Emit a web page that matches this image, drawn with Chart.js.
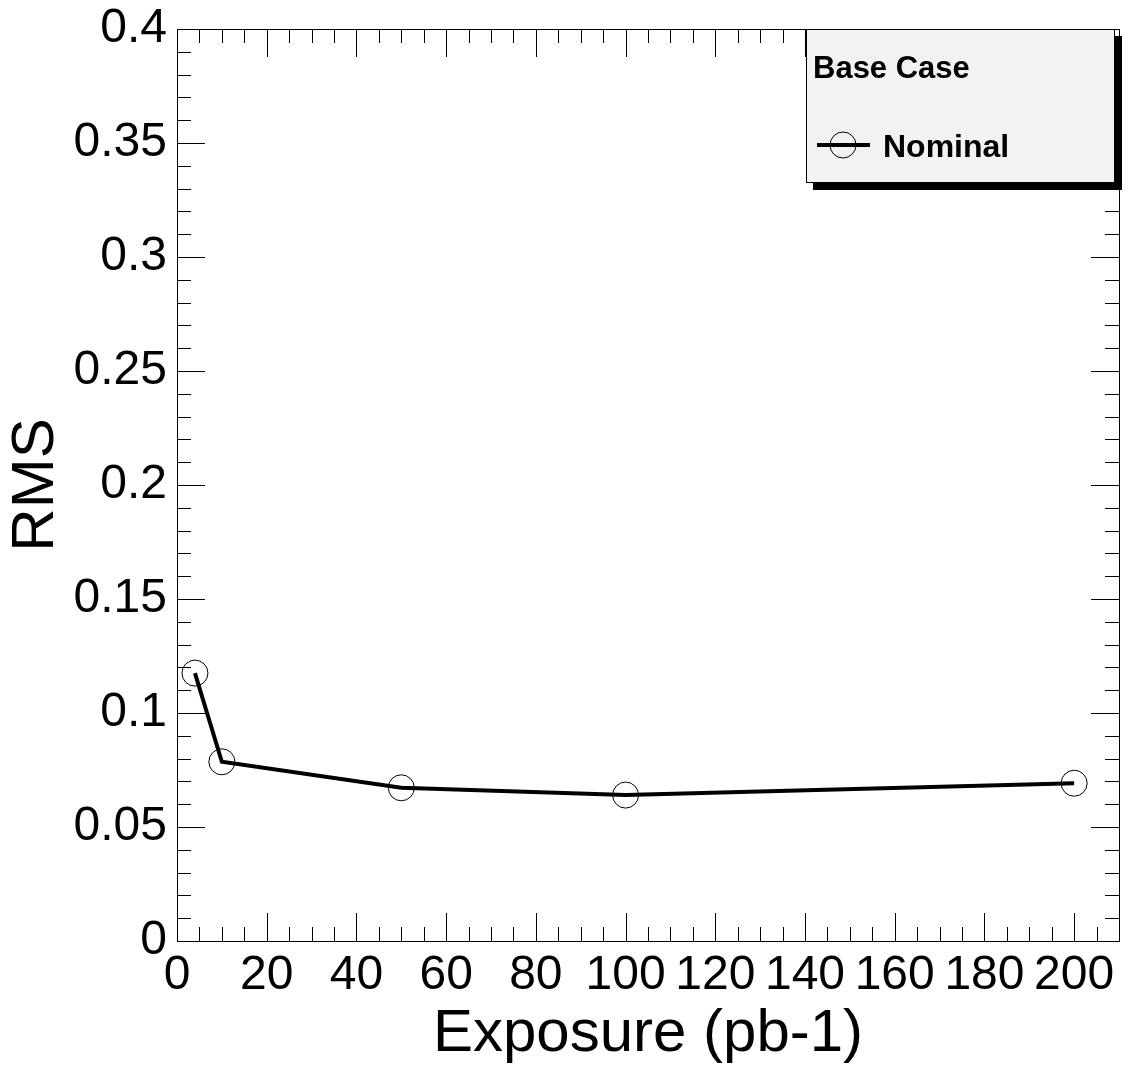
<!DOCTYPE html>
<html>
<head>
<meta charset="utf-8">
<script src="https://cdn.jsdelivr.net/npm/chart.js@4.4.0/dist/chart.umd.min.js"></script>
<style>
  html, body { margin: 0; padding: 0; background: #fff; }
  #chart { display: block; }
</style>
</head>
<body>
<canvas id="chart" width="1133" height="1070"></canvas>
<script>
// datos
const exposure = [4, 10, 50, 100, 200];
const rmsNominal = [0.1175, 0.0786, 0.0672, 0.0640, 0.0692];
const xTickValues = [0, 20, 40, 60, 80, 100, 120, 140, 160, 180, 200];
const yTickValues = [0, 0.05, 0.1, 0.15, 0.2, 0.25, 0.3, 0.35, 0.4];
const xMinorStep = 5;
const yMinorStep = 0.01;
const legendTitle = 'Base Case';
const seriesName = 'Nominal';

const FONT = '"Liberation Sans", Arial, Helvetica, sans-serif';

// marco y ticks hacia dentro (estilo ROOT)
const frameTicks = {
    id: 'frameTicks',
    beforeDatasetsDraw(chart) {
        const ctx = chart.ctx;
        const a = chart.chartArea;
        const xs = chart.scales.x;
        const ys = chart.scales.y;
        const major = 28, minor = 14;
        ctx.save();
        ctx.strokeStyle = '#000';
        ctx.lineWidth = 1;
        ctx.beginPath();
        // eje x
        for (let v = xs.min; v <= xs.max + 1e-9; v += xMinorStep) {
            const isMajor = xTickValues.some(t => Math.abs(t - v) < 1e-6);
            const len = isMajor ? major : minor;
            const px = Math.round(xs.getPixelForValue(v)) + 0.5;
            ctx.moveTo(px, a.bottom); ctx.lineTo(px, a.bottom - len);
            ctx.moveTo(px, a.top); ctx.lineTo(px, a.top + len);
        }
        // eje y
        for (let i = 0; i * yMinorStep <= ys.max + 1e-9; i++) {
            const v = i * yMinorStep;
            const isMajor = yTickValues.some(t => Math.abs(t - v) < 1e-6);
            const len = isMajor ? major : minor;
            const py = Math.round(ys.getPixelForValue(v)) + 0.5;
            ctx.moveTo(a.left, py); ctx.lineTo(a.left + len, py);
            ctx.moveTo(a.right, py); ctx.lineTo(a.right - len, py);
        }
        ctx.stroke();
        ctx.strokeRect(Math.round(a.left) + 0.5, Math.round(a.top) + 0.5,
            Math.round(a.right - a.left), Math.round(a.bottom - a.top));
        ctx.restore();
    }
};

// leyenda con sombra
const boxLegend = {
    id: 'boxLegend',
    afterDraw(chart) {
        const ctx = chart.ctx;
        const ds = chart.data.datasets[0];
        const x0 = 806, y0 = 29, x1 = 1115, y1 = 183, sh = 7;
        ctx.save();
        ctx.fillStyle = '#000';
        ctx.fillRect(x1, y0 + sh, sh, y1 - y0);
        ctx.fillRect(x0 + sh, y1, x1 - x0, sh);
        ctx.fillStyle = '#f2f2f2';
        ctx.fillRect(x0, y0, x1 - x0, y1 - y0);
        ctx.strokeStyle = '#000';
        ctx.lineWidth = 1;
        ctx.strokeRect(x0 + 0.5, y0 + 0.5, x1 - x0 - 1, y1 - y0 - 1);

        ctx.fillStyle = '#000';
        ctx.textAlign = 'left';
        ctx.textBaseline = 'alphabetic';
        ctx.font = 'bold 31px ' + FONT;
        ctx.fillText(legendTitle, 813, 78);
        ctx.font = 'bold 32px ' + FONT;
        ctx.fillText(ds.label, 883, 157);

        ctx.strokeStyle = ds.borderColor;
        ctx.lineWidth = 4;
        ctx.beginPath();
        ctx.moveTo(817, 145); ctx.lineTo(870, 145);
        ctx.stroke();
        ctx.lineWidth = 1;
        ctx.beginPath();
        ctx.arc(843, 145, 13, 0, Math.PI * 2);
        ctx.stroke();
        ctx.restore();
    }
};

new Chart(document.getElementById('chart'), {
    type: 'line',
    data: {
        datasets: [{
            label: seriesName,
            data: exposure.map((x, i) => ({ x: x, y: rmsNominal[i] })),
            borderColor: '#000',
            borderWidth: 4,
            tension: 0,
            fill: false,
            pointRadius: 13,
            pointBorderWidth: 1,
            pointBorderColor: '#000',
            pointBackgroundColor: 'rgba(0,0,0,0)'
        }]
    },
    options: {
        responsive: false,
        animation: false,
        devicePixelRatio: 1,
        layout: { padding: { top: 29, right: 11, left: 0, bottom: 0 } },
        plugins: {
            legend: { display: false },
            tooltip: { enabled: false }
        },
        scales: {
            x: {
                type: 'linear',
                min: 0,
                max: 210,
                afterBuildTicks: s => { s.ticks = xTickValues.map(v => ({ value: v })); },
                afterFit: s => { s.height = 129; s.paddingLeft = 0; s.paddingRight = 0; },
                grid: { display: false, drawTicks: false },
                border: { display: false },
                ticks: {
                    color: '#000',
                    padding: 6,
                    maxRotation: 0,
                    autoSkip: false,
                    font: { family: FONT, size: 48 }
                },
                title: {
                    display: true,
                    text: 'Exposure (pb-1)',
                    color: '#000',
                    padding: 0,
                    font: { family: FONT, size: 60 }
                }
            },
            y: {
                type: 'linear',
                min: 0,
                max: 0.4,
                afterBuildTicks: s => { s.ticks = yTickValues.map(v => ({ value: v })); },
                afterFit: s => { s.width = 177; s.paddingTop = 0; s.paddingBottom = 0; },
                grid: { display: false, drawTicks: false },
                border: { display: false },
                ticks: {
                    color: '#000',
                    padding: 10,
                    font: { family: FONT, size: 48 },
                    callback: v => String(parseFloat(Number(v).toFixed(2)))
                },
                title: {
                    display: true,
                    text: 'RMS',
                    color: '#000',
                    padding: 0,
                    font: { family: FONT, size: 60 }
                }
            }
        }
    },
    plugins: [frameTicks, boxLegend]
});
</script>
</body>
</html>
